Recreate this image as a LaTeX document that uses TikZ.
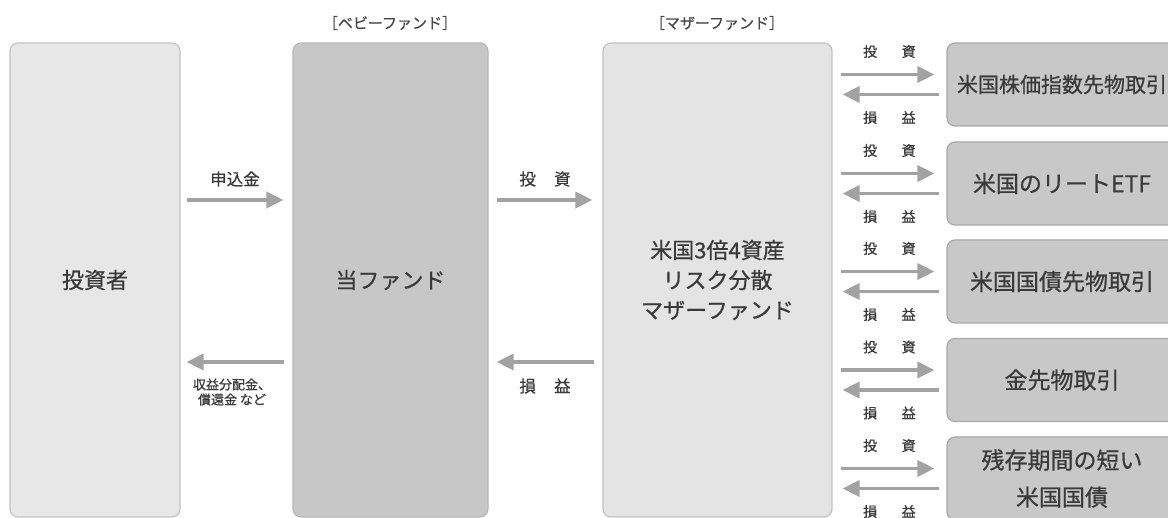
\documentclass[tikz,border=0pt]{standalone}
\usepackage{fontspec}
\setmainfont{Noto Sans CJK JP}[FakeBold=0.7]
\usetikzlibrary{arrows.meta,calc}
\definecolor{txt}{HTML}{3A3A3A}
\definecolor{arrc}{HTML}{A2A2A2}
\tikzset{
  bigbox/.style={rounded corners=8pt, line width=1.2pt, minimum width=#1, inner sep=0pt, align=center, text=txt, font=\fontsize{22}{30}\selectfont, minimum height=474pt},
  invbox/.style={bigbox=170pt, fill=black!9.5, draw=black!23},
  babybox/.style={bigbox=195pt, fill=black!22, draw=black!28},
  motherbox/.style={bigbox=229pt, fill=black!10.5, draw=black!24},
  rbox/.style={rounded corners=8pt, line width=1.2pt, minimum width=230pt, minimum height=83pt, inner sep=0pt, align=center, text=txt, fill=black!21.5, draw=black!34, font=\fontsize{23}{34}\selectfont},
  arr/.style={draw=arrc, line width=3.5pt, -{Triangle[length=17pt,width=16pt]}},
  smlab/.style={text=txt, font=\fontsize{14}{15}\selectfont, inner sep=0pt},
  midlab/.style={text=txt, font=\fontsize{16.5}{18}\selectfont, inner sep=0pt},
  hdlab/.style={text=black!72, font=\fontsize{15}{17}\selectfont, inner sep=0pt},
}
\begin{document}
\begin{tikzpicture}[x=1pt,y=-1pt]
\useasboundingbox (0,0) rectangle (1168,518);
% main boxes
\node[invbox] (inv) at (95,280) {投資者};
\node[babybox] (baby) at (390.5,280) {当ファンド};
\node[motherbox] (mother) at (717.5,280) {米国3倍4資産\\リスク分散\\マザーファンド};
\node[hdlab] (hb) at (390,23) {［ベビーファンド］};
\node[hdlab] (hm) at (717,23) {［マザーファンド］};
% right boxes
\node[rbox, font=\fontsize{21}{30}\selectfont] (r1) at (1062,84.5) {米国株価指数先物取引};
\node[rbox] (r2) at (1062,183.5) {米国のリートETF};
\node[rbox] (r3) at (1062,281.5) {米国国債先物取引};
\node[rbox] (r4) at (1062,380) {金先物取引};
\node[rbox, font=\fontsize{23}{37}\selectfont] (r5) at (1062,478.5) {残存期間の短い\\米国国債};
% left arrows
\draw[arr] ($(inv.east)+(6,-80)$) -- ($(baby.west)+(-9,-80)$);
\draw[arr] ($(baby.west)+(-8,82)$) -- ($(inv.east)+(6,82)$);
\draw[arr] ($(baby.east)+(8,-80)$) -- ($(mother.west)+(-10,-80)$);
\draw[arr] ($(mother.west)+(-8,82)$) -- ($(baby.east)+(8,82)$);
\node[midlab] (l1) at (235,179) {申込金};
\node[smlab, align=center, font=\fontsize{13}{15}\selectfont] (l2) at (232,392) {収益分配金、\\償還金 など};
\node[midlab] (l3) at (545,179) {投\hspace{1.1em}資};
\node[midlab] (l4) at (545,386) {損\hspace{1.1em}益};
% right arrows
\foreach \r in {r1,r2,r3,r4,r5}{
  \draw[arr] ($(mother.east |- \r.west)+(8,-10)$) -- ($(\r.west)+(-12,-10)$);
  \draw[arr] ($(\r.west)+(-7,10)$) -- ($(mother.east |- \r.west)+(10,10)$);
  \node[smlab] (i\r) at ($(\r.west)+(-57,-33)$) {投\hspace{1.75em}資};
  \node[smlab] (s\r) at ($(\r.west)+(-57,33)$) {損\hspace{1.75em}益};
}
\end{tikzpicture}
\end{document}
